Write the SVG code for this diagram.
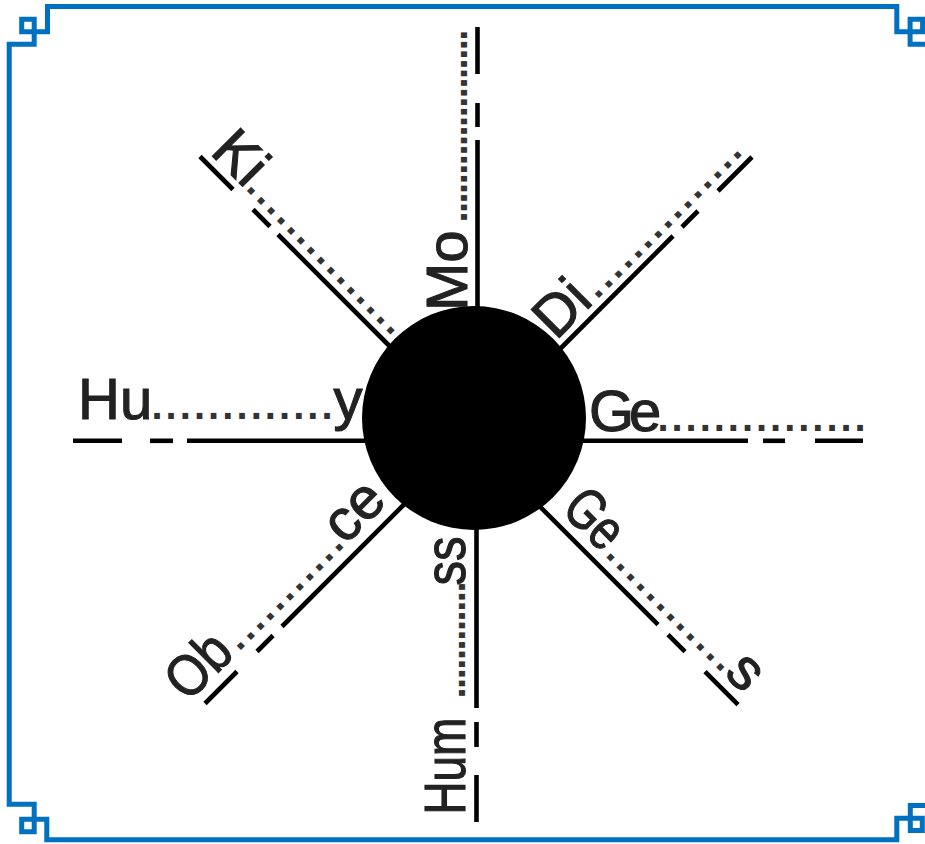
<svg xmlns="http://www.w3.org/2000/svg" width="925" height="844" viewBox="0 0 925 844">
<style>
.frame{fill:none;stroke:#0070C0;stroke-width:5;stroke-linejoin:miter}
.ray line{stroke:#000;stroke-width:4.6;stroke-linecap:butt}
.lbl{font-family:"Liberation Sans",Arial,sans-serif;font-size:58px;fill:#222;stroke:#222;stroke-width:1.1px}
.dots{font-size:40px;font-weight:bold;letter-spacing:2.97px;stroke:none;fill:#333}
.dd{font-size:40px;font-weight:bold;stroke:none;fill:#333}
.vdots{font-size:40px;font-weight:bold;letter-spacing:-1.5px;stroke:none;fill:#333}
</style>
<rect width="925" height="844" fill="#fff"/>
<path id="frame" class="frame" d="M935,44.2 H910.1 V19.2 H922.6 V31.7 H896.8 V6.5 H47.5 V31.7 H21.7 V19.2 H34.2 V44.2 H9.2 V804.2 H34.2 V831.7 H21.7 V819.2 H46.8 V839.7 H896.8 V818.2 H922.3 V830.5 H910.3 V805.5 H935"/>
<g id="connectors" class="ray">
<line x1="477.5" y1="140" x2="477.5" y2="330"/>
<line x1="477.5" y1="103" x2="477.5" y2="127"/>
<line x1="477.5" y1="27" x2="477.5" y2="74"/>
<line x1="476.5" y1="510" x2="476.5" y2="708"/>
<line x1="476.5" y1="722" x2="476.5" y2="747"/>
<line x1="476.5" y1="775" x2="476.5" y2="822"/>
<line x1="187" y1="440.8" x2="380" y2="440.8"/>
<line x1="150" y1="440.8" x2="173" y2="440.8"/>
<line x1="73" y1="440.8" x2="122" y2="440.8"/>
<line x1="570" y1="440.8" x2="748" y2="440.8"/>
<line x1="763" y1="440.8" x2="785" y2="440.8"/>
<line x1="815" y1="440.8" x2="863" y2="440.8"/>
<line x1="278" y1="234.5" x2="400" y2="356.5"/>
<line x1="253" y1="209.5" x2="270" y2="226.5"/>
<line x1="200" y1="156.5" x2="233" y2="189.5"/>
<line x1="550" y1="359" x2="673" y2="236"/>
<line x1="682" y1="227" x2="698" y2="211"/>
<line x1="718" y1="191" x2="752" y2="157"/>
<line x1="530" y1="496.7" x2="658" y2="624.7"/>
<line x1="668" y1="634.7" x2="685" y2="651.7"/>
<line x1="705" y1="671.7" x2="738" y2="704.7"/>
<line x1="410" y1="498.5" x2="282" y2="626.5"/>
<line x1="273" y1="635.5" x2="257" y2="651.5"/>
<line x1="237" y1="671.5" x2="205" y2="703.5"/>
</g>
<g id="hub"><circle cx="474" cy="418" r="112" fill="#000"/></g>
<g id="label-hu"><text class="lbl" x="78" y="419">Hu<tspan class="dd" x="151.4" dx="0 3.05 3.05 3.05 3.05 3.05 3.05 3.05 3.05 3.05 3.05 3.05 3.05">.............</tspan><tspan x="333.5">y</tspan></text></g>
<g id="label-ge-right"><text class="lbl" x="589" y="431"><tspan style="letter-spacing:-5px">Ge</tspan><tspan class="dots" x="657.4">...............</tspan></text></g>
<g id="label-mo"><text class="lbl" transform="translate(467,311) rotate(-90)" x="0" y="0">Mo<tspan class="vdots" x="88.4" style="letter-spacing:-1.54px">....................</tspan></text></g>
<g id="label-hum"><text class="lbl" transform="translate(465,814.6) rotate(-90)" x="0" y="0"><tspan textLength="97" lengthAdjust="spacingAndGlyphs">Hum</tspan><tspan class="dd" x="116" dx="0 -1.48 -1.48 -1.48 -1.48 -1.48 -1.48 -1.48 -1.48 -1.48 -1.48 -1.48">............</tspan><tspan x="229" textLength="49" lengthAdjust="spacingAndGlyphs">ss</tspan></text></g>
<g id="label-ki"><text class="lbl" transform="translate(209,153) rotate(45)" x="0" y="0">Ki<tspan class="dots" x="51">...............</tspan></text></g>
<g id="label-di"><text class="lbl" transform="translate(556,341) rotate(-45)" x="0" y="0">Di<tspan class="dots" x="58" style="letter-spacing:2.91px">...............</tspan></text></g>
<g id="label-ge-lower"><text class="lbl" transform="translate(560,511) rotate(45)" x="0" y="0"><tspan textLength="60" lengthAdjust="spacingAndGlyphs">Ge</tspan><tspan class="dd" x="63" dx="0 2.98 2.98 2.98 2.98 2.98 2.98 2.98 2.98 2.98 2.98 2.98">............</tspan><tspan x="230.5">s</tspan></text></g>
<g id="label-ob"><text class="lbl" transform="translate(188,703) rotate(-45)" x="0" y="0"><tspan textLength="68" lengthAdjust="spacingAndGlyphs">Ob</tspan><tspan class="dd" x="72.2" dx="0 2.78 2.78 2.78 2.78 2.78 2.78 2.78 2.78 2.78 2.78">...........</tspan><tspan x="222.5">ce</tspan></text></g>
</svg>
